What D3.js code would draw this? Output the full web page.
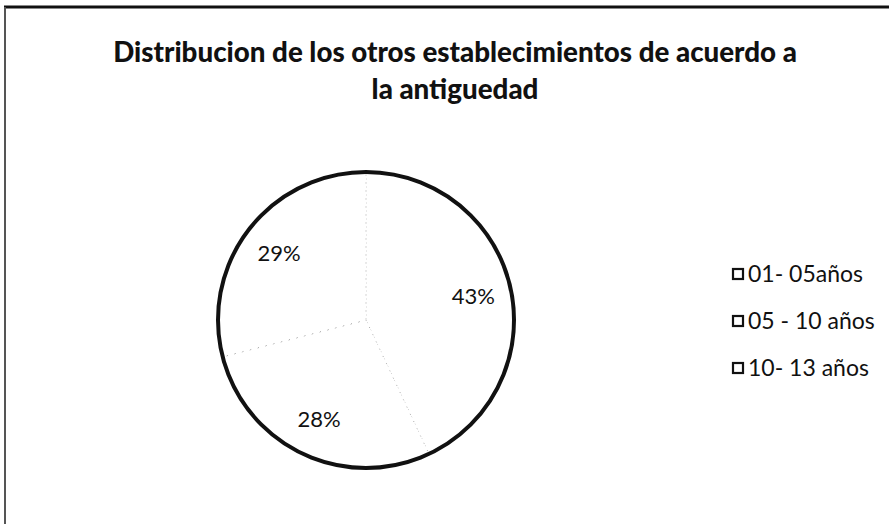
<!DOCTYPE html>
<html>
<head>
<meta charset="utf-8">
<script src="https://cdn.jsdelivr.net/npm/d3@7"></script>
<style>
html,body{margin:0;padding:0;background:#fff;}
svg{display:block;}
</style>
</head>
<body>
<svg id="chart" width="889" height="524"></svg>
<script>
const categories = ["01- 05años", "05 - 10 años", "10- 13 años"];
const values = [43, 28, 29];
const labels = ["43%", "28%", "29%"];
const titleLines = ["Distribucion de los otros establecimientos de acuerdo a", "la antiguedad"];

const svg = d3.select("#chart");
const W = 889, H = 524;

// frame (top and left edges visible)
svg.append("line").attr("x1", 4).attr("x2", W).attr("y1", 7).attr("y2", 7)
  .attr("stroke", "#111").attr("stroke-width", 3);
svg.append("line").attr("x1", 5).attr("x2", 5).attr("y1", 7).attr("y2", H)
  .attr("stroke", "#555").attr("stroke-width", 2);

// title (condensed bold look)
const font = "Lato, 'Open Sans', sans-serif";
const titleG = svg.append("g");
const tcx = 455;
const t1 = titleG.append("text").attr("x", 0).attr("y", 0).attr("text-anchor", "middle")
  .attr("font-family", font).attr("font-weight", "900").attr("font-size", 29)
  .attr("fill", "#111").text(titleLines[0]);
const w1 = t1.node().getComputedTextLength();
const sx = 684 / w1;
t1.attr("transform", `translate(${tcx},62) scale(${sx},1)`);
titleG.append("text").attr("text-anchor", "middle")
  .attr("font-family", font).attr("font-weight", "900").attr("font-size", 29)
  .attr("fill", "#111").attr("transform", `translate(${tcx},99) scale(${sx},1)`)
  .text(titleLines[1]);

// pie
const cx = 366, cy = 320, R = 148;
const pie = d3.pie().sort(null).value(d => d);
const arcs = pie(values);
const arc = d3.arc().innerRadius(0).outerRadius(R);
const labelArc = d3.arc().innerRadius(110).outerRadius(110);
const g = svg.append("g").attr("transform", `translate(${cx},${cy})`);

g.selectAll("path.slice").data(arcs).enter().append("path")
  .attr("class", "slice").attr("d", arc)
  .attr("fill", "#fff").attr("stroke", "#aaa").attr("stroke-width", 1)
  .attr("stroke-dasharray", "1,7");

g.append("circle").attr("r", R).attr("fill", "none")
  .attr("stroke", "#111").attr("stroke-width", 4);

g.selectAll("text.lbl").data(arcs).enter().append("text")
  .attr("class", "lbl")
  .attr("transform", d => `translate(${labelArc.centroid(d)})`)
  .attr("text-anchor", "middle").attr("dy", "0.36em")
  .attr("font-family", font).attr("font-size", 22).attr("fill", "#111")
  .text((d, i) => labels[i]);

// legend
const ly = d3.scalePoint().domain(categories).range([274, 368]);
const leg = svg.append("g");
const items = leg.selectAll("g").data(categories).enter().append("g")
  .attr("transform", d => `translate(733,${ly(d)})`);
items.append("rect").attr("x", 0).attr("y", -5).attr("width", 10).attr("height", 10)
  .attr("fill", "#fff").attr("stroke", "#111").attr("stroke-width", 2.2);
items.append("text").attr("x", 15).attr("y", 0).attr("dy", "0.36em")
  .attr("font-family", font).attr("font-size", 23).attr("fill", "#111")
  .text(d => d);
</script>
</body>
</html>
